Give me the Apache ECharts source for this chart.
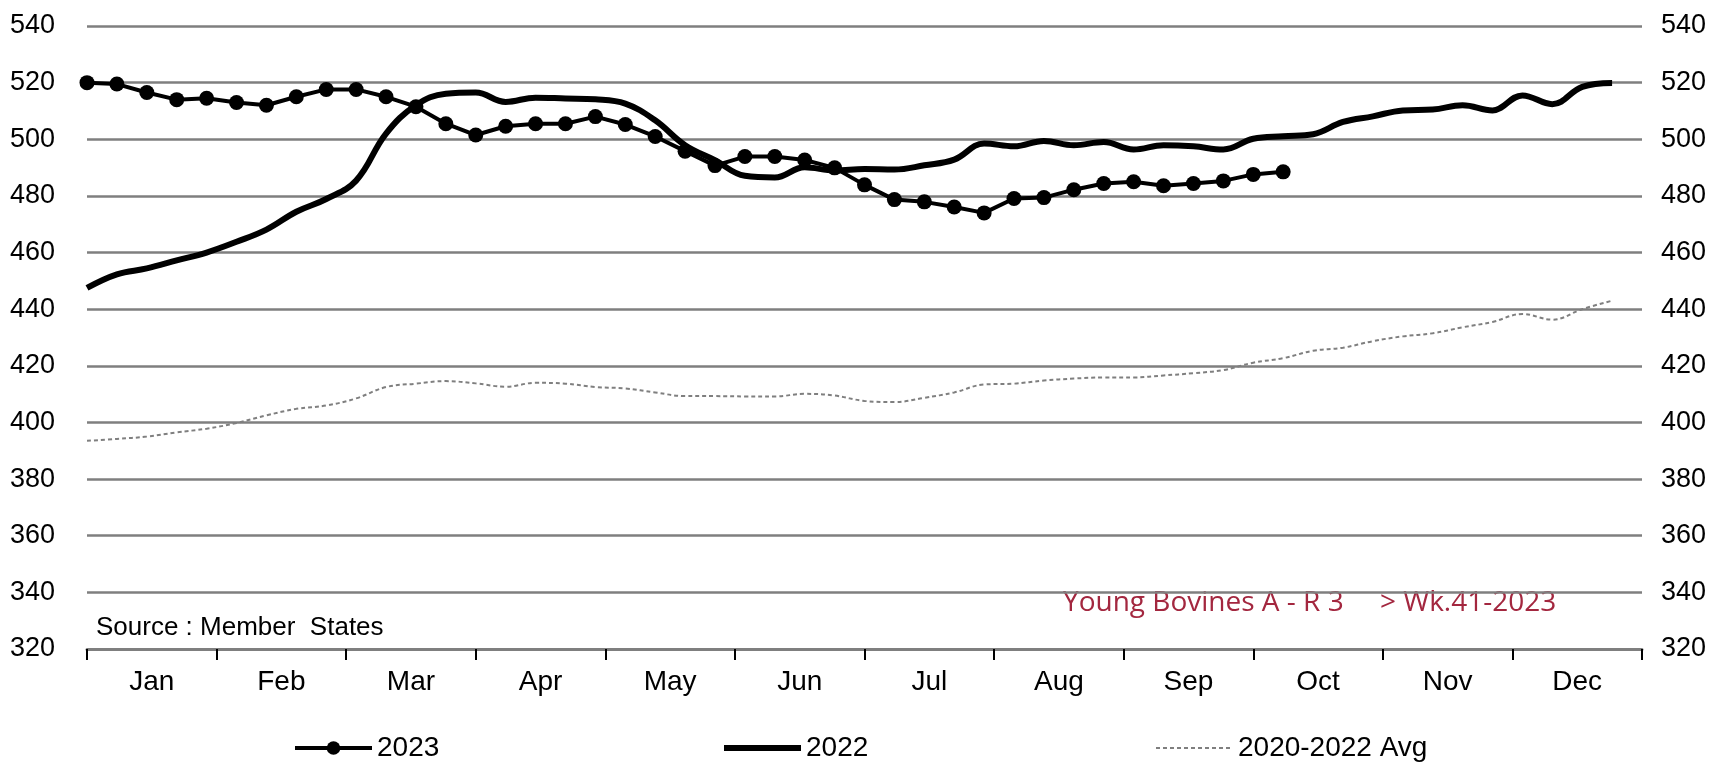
<!DOCTYPE html>
<html>
<head>
<meta charset="utf-8">
<script src="https://cdn.jsdelivr.net/npm/echarts@6/dist/echarts.min.js"></script>
<style>
  html, body { margin: 0; padding: 0; background: #fff; }
  #chart { width: 1719px; height: 765px; }
</style>
</head>
<body>
<div id="chart"></div>
<script>
const months = ['Jan','Feb','Mar','Apr','May','Jun','Jul','Aug','Sep','Oct','Nov','Dec'];
const yTicks = [320, 340, 360, 380, 400, 420, 440, 460, 480, 500, 520, 540];

const values2023 = [520, 519.5, 516.5, 514, 514.5, 513, 512, 515, 517.6, 517.6,
  515, 511.5, 505.5, 501.5, 504.6, 505.5, 505.5, 508, 505.2, 501,
  495.8, 490.7, 493.9, 493.9, 492.7, 489.9, 483.9, 478.7, 477.9, 476.1,
  474, 479.1, 479.4, 482.2, 484.4, 485, 483.6, 484.4, 485.3, 487.6, 488.5];

const values2022 = [447.5, 452.3, 454.4, 457.2, 460, 463.8, 468.1, 474.4, 478.9, 485.4,
  502, 512, 516.1, 516.5, 513.2, 514.7, 514.4, 514.1, 512.6, 506.7,
  497.9, 492.6, 487.1, 486.5, 490.1, 489, 489.5, 489.3, 490.8, 492.8,
  498.5, 497.5, 499.4, 497.9, 499, 496.4, 497.9, 497.5, 496.4, 500.2,
  501.1, 501.8, 506.1, 508.1, 510.2, 510.5, 512, 510.2, 515.5, 512.4,
  518.5, 519.9];

const valuesAvg = [393.5, 394.2, 395, 396.5, 397.8, 399.8, 402.5, 404.8, 406, 408.5,
  412.5, 413.7, 414.6, 413.8, 412.6, 414, 413.7, 412.5, 412, 410.6,
  409.3, 409.3, 409.2, 409.2, 410.1, 409.5, 407.6, 407.2, 408.7, 410.6,
  413.4, 413.7, 414.8, 415.5, 415.9, 415.9, 416.6, 417.4, 418.5, 421.1,
  422.7, 425.3, 426.4, 428.7, 430.4, 431.5, 433.6, 435.5, 438.3, 436.3,
  440, 443];

const seriesNames = ['2023', '2022', '2020-2022 Avg'];
const sourceText = 'Source : Member  States';
const noteText = 'Young Bovines A - R 3     > Wk.41-2023';

const toPairs = arr => arr.map((v, i) => [i + 1, v]);

const chart = echarts.init(document.getElementById('chart'), null, { renderer: 'canvas' });
const font = 'Liberation Sans, Arial, sans-serif';

const legendBase = {
  top: 729, padding: 5, itemWidth: 77, itemHeight: 17, itemGap: 10,
  textStyle: { fontSize: 28, color: '#000', fontFamily: font },
  lineStyle: { width: 'inherit' }
};

chart.setOption({
  animation: false,
  backgroundColor: '#fff',
  grid: { left: 87, right: 77, top: 26, bottom: 116, containLabel: false },
  xAxis: [
    { type: 'value', min: 1, max: 53, show: false, position: 'bottom' },
    {
      type: 'category', data: months, position: 'bottom', boundaryGap: true,
      axisLine: { show: true, lineStyle: { color: '#7f7f7f', width: 3 } },
      axisTick: { show: true, interval: 0, length: 11, inside: false, lineStyle: { color: '#000', width: 2 } },
      axisLabel: { interval: 0, fontSize: 28, color: '#000', margin: 19, fontFamily: font },
      splitLine: { show: false }
    }
  ],
  yAxis: [
    {
      type: 'value', min: yTicks[0], max: yTicks[yTicks.length - 1], interval: 20, position: 'left',
      axisLine: { show: false }, axisTick: { show: false },
      axisLabel: { fontSize: 27, color: '#000', margin: 32, fontFamily: font },
      splitLine: { show: true, lineStyle: { color: '#7f7f7f', width: 2.5 } }
    },
    {
      type: 'value', min: yTicks[0], max: yTicks[yTicks.length - 1], interval: 20, position: 'right',
      axisLine: { show: false }, axisTick: { show: false },
      axisLabel: { fontSize: 27, color: '#000', margin: 19, fontFamily: font },
      splitLine: { show: false }
    }
  ],
  legend: [
    Object.assign({}, legendBase, { left: 288, data: [{ name: seriesNames[0] }] }),
    Object.assign({}, legendBase, { left: 716, data: [{ name: seriesNames[1], itemStyle: { opacity: 0 } }] }),
    Object.assign({}, legendBase, { left: 1150, data: [{ name: seriesNames[2], itemStyle: { opacity: 0 } }] })
  ],
  graphic: [
    { type: 'text', left: 96, top: 615, style: { text: sourceText, fontSize: 26, fill: '#000', fontFamily: font } },
    { type: 'text', left: 1063, top: 589, style: { text: noteText, fontSize: 28, fill: '#a3273f', fontFamily: 'Open Sans, Liberation Sans, sans-serif' } }
  ],
  series: [
    {
      name: seriesNames[0], type: 'line', xAxisIndex: 0, yAxisIndex: 0,
      data: toPairs(values2023),
      symbol: 'circle', symbolSize: 15, showSymbol: true,
      lineStyle: { color: '#000', width: 4 },
      itemStyle: { color: '#000' },
      z: 5
    },
    {
      name: seriesNames[1], type: 'line', xAxisIndex: 0, yAxisIndex: 0,
      data: toPairs(values2022),
      smooth: 0.4, showSymbol: false, symbol: 'none',
      lineStyle: { color: '#000', width: 6 },
      itemStyle: { color: '#000' },
      z: 4
    },
    {
      name: seriesNames[2], type: 'line', xAxisIndex: 0, yAxisIndex: 0,
      data: toPairs(valuesAvg),
      smooth: 0.4, showSymbol: false, symbol: 'none',
      lineStyle: { color: '#7f7f7f', width: 2, type: [4, 3] },
      itemStyle: { color: '#7f7f7f' },
      z: 3
    }
  ]
});
</script>
</body>
</html>
